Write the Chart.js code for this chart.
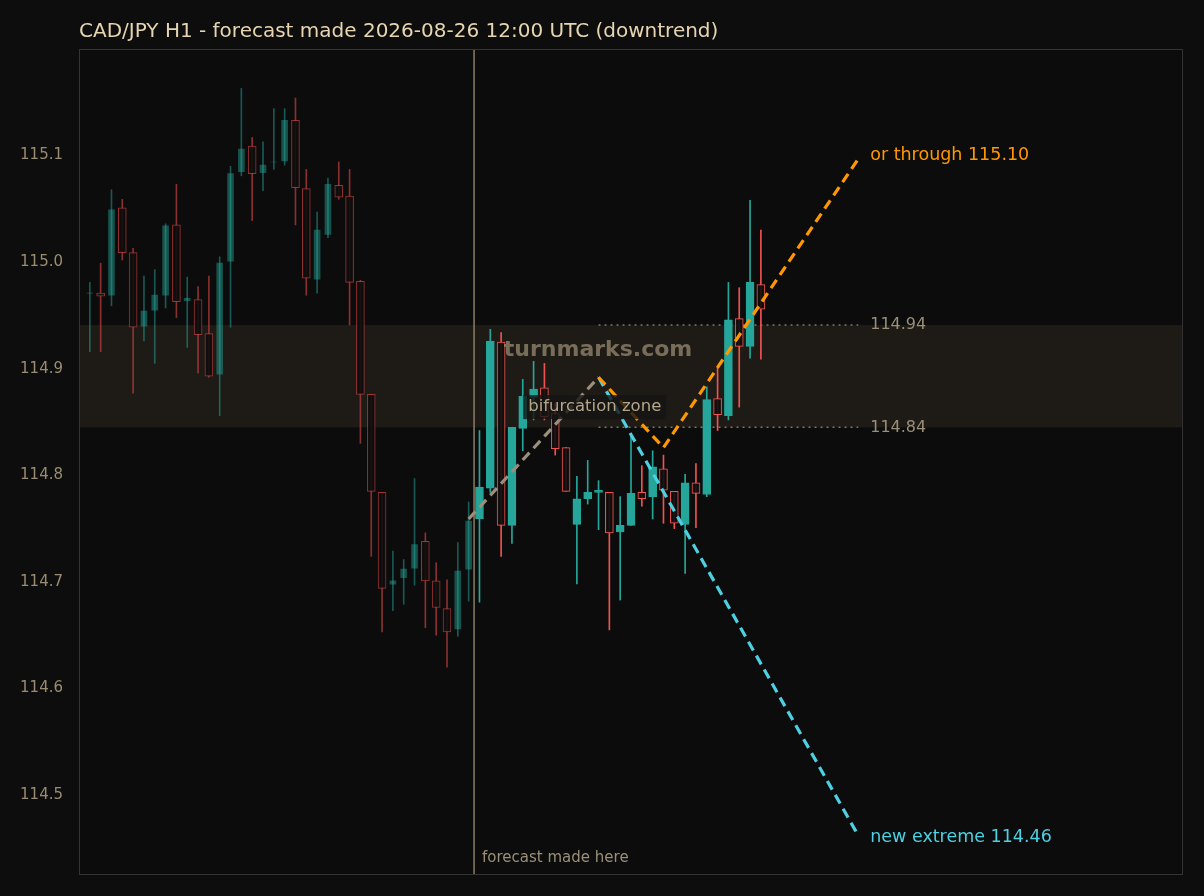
<!DOCTYPE html>
<html><head><meta charset="utf-8">
<script src="https://cdn.jsdelivr.net/npm/chart.js@4"></script>
<style>html,body{margin:0;background:#0d0d0d}#w{width:1204px;height:896px}</style>
</head><body><div id="w"><canvas id="c"></canvas></div>
<script>
const opens  = [114.970,114.971,114.968,115.051,115.009,114.939,114.954,114.968,115.035,114.963,114.965,114.933,114.894,115.000,115.084,115.109,115.083,115.093,115.094,115.133,115.069,114.983,115.025,115.072,115.062,114.982,114.876,114.784,114.697,114.703,114.712,114.738,114.701,114.675,114.655,114.711,
114.759,114.788,114.925,114.753,114.844,114.873,114.882,114.858,114.826,114.754,114.778,114.784,114.784,114.747,114.753,114.784,114.780,114.806,114.785,114.754,114.793,114.782,114.872,114.856,114.947,114.921,114.979];
const closes = [114.971,114.968,115.050,115.009,114.939,114.955,114.970,115.035,114.963,114.967,114.932,114.893,115.000,115.084,115.107,115.083,115.092,115.094,115.134,115.070,114.985,115.031,115.074,115.061,114.981,114.876,114.785,114.694,114.702,114.713,114.736,114.701,114.676,114.653,114.711,114.758,
114.789,114.926,114.753,114.845,114.874,114.881,114.855,114.825,114.785,114.778,114.784,114.785,114.746,114.753,114.783,114.778,114.808,114.786,114.755,114.793,114.783,114.871,114.857,114.946,114.921,114.981,114.956];
const highs  = [114.981,114.999,115.068,115.059,115.013,114.987,114.993,115.036,115.073,114.986,114.977,114.987,115.005,115.090,115.163,115.117,115.113,115.144,115.144,115.154,115.087,115.047,115.079,115.094,115.087,114.983,114.876,114.784,114.729,114.721,114.797,114.746,114.718,114.702,114.737,114.775,
114.842,114.937,114.934,114.845,114.890,114.907,114.905,114.868,114.826,114.799,114.814,114.795,114.784,114.780,114.839,114.809,114.823,114.819,114.785,114.801,114.811,114.883,114.902,114.981,114.976,115.058,115.030];
const lows   = [114.916,114.916,114.959,115.002,114.877,114.926,114.905,114.957,114.948,114.920,114.896,114.892,114.856,114.939,115.081,115.039,115.067,115.087,115.091,115.035,114.969,114.971,115.023,115.059,114.941,114.830,114.724,114.653,114.673,114.679,114.697,114.657,114.650,114.620,114.649,114.682,
114.681,114.784,114.724,114.736,114.823,114.852,114.852,114.819,114.785,114.698,114.773,114.749,114.655,114.683,114.753,114.771,114.759,114.755,114.750,114.708,114.751,114.780,114.842,114.852,114.864,114.910,114.909];
const forecastIndex = 35.5;
const pathX = [35, 47];          const pathY = [114.759, 114.892];
const upX = [47, 53, 71];        const upY = [114.892, 114.826, 115.097];
const downX = [47, 71];          const downY = [114.892, 114.462];
const levelLabels = ['114.94', '114.84'];
const levelValues = [114.941, 114.845];
const zone = [114.845, 114.941];
const yTicks = [114.5,114.6,114.7,114.8,114.9,115.0,115.1];
const titleText = 'CAD/JPY H1 - forecast made 2026-08-26 12:00 UTC (downtrend)';

const idx = opens.map((_, i) => i);
const past = i => i < forecastIndex;
const up = i => closes[i] >= opens[i];
const colUp = '#26a69a', colDn = '#ef5350';
const wickCol = idx.map(i => past(i) ? (up(i) ? 'rgba(38,166,154,0.5)' : 'rgba(180,60,60,0.75)') : (up(i) ? colUp : colDn));
const bodyFill = idx.map(i => up(i) ? (past(i) ? 'rgba(38,166,154,0.45)' : colUp) : 'rgba(13,13,13,0.9)');
const bodyBorder = idx.map(i => past(i) ? (up(i) ? 'rgba(38,166,154,0.0)' : 'rgba(180,60,60,0.8)') : (up(i) ? colUp : colDn));

const overlay = {
  id: 'overlay',
  beforeDatasetsDraw(ch) {
    const {ctx, chartArea: a, scales: {x, y}} = ch;
    ctx.save();
    ctx.fillStyle = '#0c0c0c';
    ctx.fillRect(a.left, a.top, a.right - a.left, a.bottom - a.top);
    ctx.fillStyle = 'rgba(60,52,40,0.38)';
    ctx.fillRect(a.left, y.getPixelForValue(zone[1]), a.right - a.left, y.getPixelForValue(zone[0]) - y.getPixelForValue(zone[1]));
    ctx.strokeStyle = '#8a7f66'; ctx.lineWidth = 1.5;
    const fx = x.getPixelForValue(forecastIndex);
    ctx.beginPath(); ctx.moveTo(fx, a.top); ctx.lineTo(fx, a.bottom); ctx.stroke();
    ctx.setLineDash([2, 4]); ctx.strokeStyle = '#7d7565'; ctx.lineWidth = 1.5;
    levelValues.forEach(v => { const py = y.getPixelForValue(v); ctx.beginPath(); ctx.moveTo(x.getPixelForValue(47), py); ctx.lineTo(x.getPixelForValue(71), py); ctx.stroke(); });
    ctx.restore();
  },
  afterDatasetsDraw(ch) {
    const {ctx, chartArea: a, scales: {x, y}} = ch;
    ctx.save();
    ctx.strokeStyle = '#333'; ctx.lineWidth = 1;
    ctx.strokeRect(a.left + 0.5, a.top + 0.5, a.right - a.left - 1, a.bottom - a.top - 1);
    ctx.font = 'bold 22px "DejaVu Sans"'; ctx.fillStyle = 'rgba(180,165,135,0.6)'; ctx.textAlign = 'center'; ctx.textBaseline = 'middle';
    ctx.fillText('turnmarks.com', 598, 350);
    ctx.font = '16.5px "DejaVu Sans"'; ctx.textAlign = 'left';
    const bx = x.getPixelForValue(40.5), by = y.getPixelForValue(114.864);
    const tw = ctx.measureText('bifurcation zone').width;
    ctx.fillStyle = 'rgba(20,20,20,0.8)'; ctx.fillRect(bx - 5, by - 12, tw + 10, 24);
    ctx.fillStyle = '#b3a68a'; ctx.fillText('bifurcation zone', bx, by);
    ctx.font = '17.5px "DejaVu Sans"';
    const lx = x.getPixelForValue(72.1);
    ctx.fillStyle = '#ff9800'; ctx.fillText('or through 115.10', lx, y.getPixelForValue(115.1));
    ctx.fillStyle = '#4dd0e1'; ctx.fillText('new extreme 114.46', lx, y.getPixelForValue(114.46));
    ctx.font = '16px "DejaVu Sans"'; ctx.fillStyle = '#9a8f78';
    levelValues.forEach((v, i) => ctx.fillText(levelLabels[i], lx, y.getPixelForValue(v)));
    ctx.font = '15px "DejaVu Sans"'; ctx.fillStyle = '#9a8f78';
    ctx.fillText('forecast made here', x.getPixelForValue(forecastIndex) + 8, a.bottom - 17);
    ctx.font = '20px "DejaVu Sans"'; ctx.fillStyle = '#e6d5b0';
    ctx.fillText(titleText, 79, 32);
    ctx.restore();
  }
};

new Chart(document.getElementById('c'), {
  data: {
    datasets: [
      {type: 'bar', data: idx.map(i => ({x: i, y: [lows[i], highs[i]]})), backgroundColor: wickCol, barThickness: 1, grouped: false, order: 3},
      {type: 'bar', data: idx.map(i => ({x: i, y: [opens[i], closes[i]]})), backgroundColor: bodyFill, borderColor: bodyBorder, borderWidth: 1, borderSkipped: false, barThickness: 8, minBarLength: 2, grouped: false, order: 2},
      {type: 'line', data: pathX.map((v, i) => ({x: v, y: pathY[i]})), borderColor: '#9a8f7a', borderWidth: 3.2, borderDash: [10, 6], pointRadius: 0, order: 1},
      {type: 'line', data: upX.map((v, i) => ({x: v, y: upY[i]})), borderColor: '#ff9800', borderWidth: 3.2, borderDash: [10, 6], pointRadius: 0, order: 0},
      {type: 'line', data: downX.map((v, i) => ({x: v, y: downY[i]})), borderColor: '#4dd0e1', borderWidth: 3.2, borderDash: [10, 6], pointRadius: 0, order: 0}
    ]
  },
  options: {
    responsive: true, maintainAspectRatio: false, animation: false,
    layout: {padding: {top: 49, right: 21, bottom: 21, left: 0}},
    plugins: {legend: {display: false}, tooltip: {enabled: false}},
    scales: {
      x: {type: 'linear', min: -1, max: 101, display: false, offset: false},
      y: {min: 114.425, max: 115.2,
          afterFit: s => { s.width = 79; },
          afterBuildTicks: s => { s.ticks = yTicks.map(v => ({value: v})); },
          grid: {display: false}, border: {display: false},
          ticks: {color: '#9a8c70', font: {size: 15, family: 'DejaVu Sans'}, padding: 8, callback: v => v.toFixed(1)}}
    }
  },
  plugins: [overlay]
});
</script></body></html>
